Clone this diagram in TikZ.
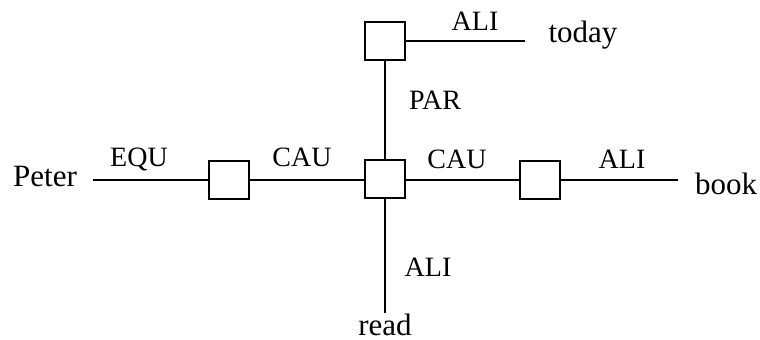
\documentclass[tikz,border=0pt]{standalone}
\usepackage{fontspec}
\setmainfont{Liberation Serif}
\usetikzlibrary{positioning}

\begin{document}
\begin{tikzpicture}[x=0.5pt, y=-0.5pt]
    \tikzstyle{box}=[rectangle, draw=black, line width=1pt, minimum width=20pt, minimum height=19pt, inner sep=0pt];
    \tikzstyle{word}=[anchor=base, inner sep=0pt, font=\fontsize{15.5}{18}\selectfont];
    \tikzstyle{rel}=[anchor=base, inner sep=0pt, font=\fontsize{14}{16}\selectfont];
    \tikzstyle{arc}=[line width=1pt];

    \useasboundingbox (0,0) rectangle (760,340);

    % concept boxes
    \node[box] (top) at (385, 41) {};
    \node[box] (left) at (229, 180) {};
    \node[box] (mid) at (385, 179) {};
    \node[box] (right) at (540, 180) {};

    % words
    \node[word] (peter) at (45, 187) {Peter};
    \node[word] (book) at (726, 195) {book};
    \node[word] (today) at (583, 43) {today};
    \node[word] (read) at (385, 336) {read};

    % free ends
    \coordinate (peterend) at (93, 180);
    \coordinate (bookend) at (678, 180);
    \coordinate (todayend) at (525, 41);
    \coordinate (readend) at (385, 313);

    \draw[arc] (peterend) -- (left.west);
    \draw[arc] (left.east) -- (mid.west |- left.east);
    \draw[arc] (mid.east |- right.west) -- (right.west);
    \draw[arc] (right.east) -- (bookend);
    \draw[arc] (mid.north) -- (top.south);
    \draw[arc] (top.east) -- (todayend);
    \draw[arc] (mid.south) -- (readend);

    % relation labels
    \node[rel] (equ) at (139, 167) {EQU};
    \node[rel] (cau1) at (302, 167) {CAU};
    \node[rel] (cau2) at (457, 169) {CAU};
    \node[rel] (ali1) at (622, 169) {ALI};
    \node[rel] (ali2) at (475, 31) {ALI};
    \node[rel] (par) at (435, 110) {PAR};
    \node[rel] (ali3) at (428, 277) {ALI};
\end{tikzpicture}
\end{document}
